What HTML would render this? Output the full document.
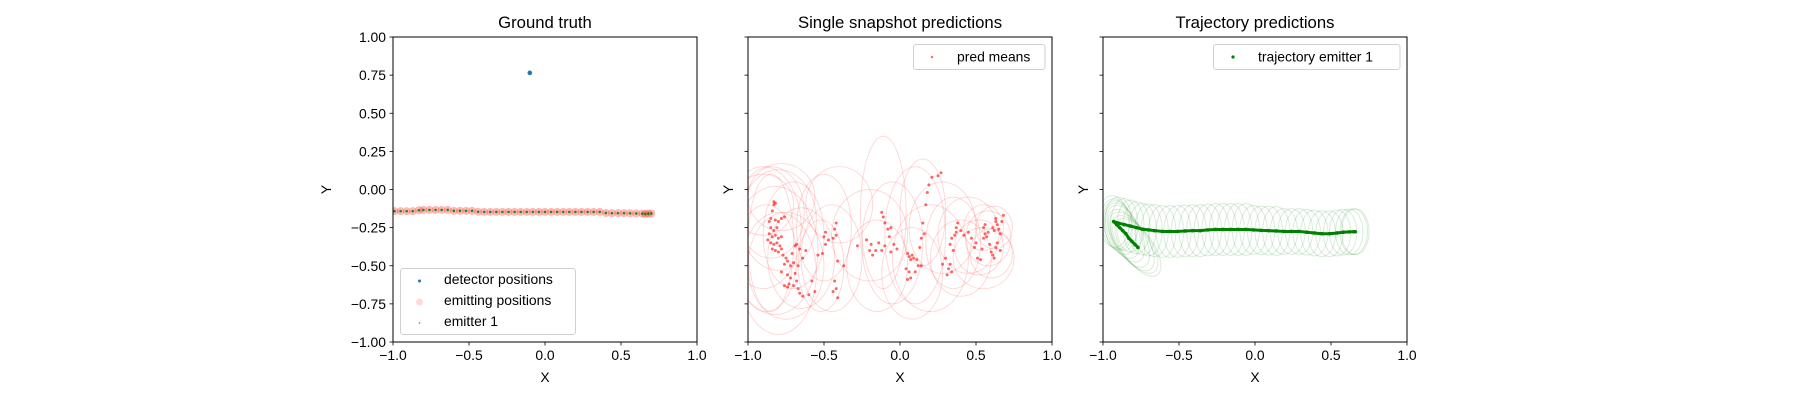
<!DOCTYPE html>
<html><head><meta charset="utf-8"><style>
body{margin:0;background:#fff}
svg{display:block;font-family:"Liberation Sans","DejaVu Sans",sans-serif}
</style></head><body>
<svg id="fig" width="1800" height="400" viewBox="0 0 1800 400" xmlns="http://www.w3.org/2000/svg">
<rect width="1800" height="400" fill="#fff"/>
</svg>
<script>
// ---- Panel 1 data ----
const detX=[-0.1];
const detY=[0.765];
const emitX=[-0.99,-0.95,-0.91,-0.87,-0.83,-0.80,-0.76,-0.72,-0.68,-0.64,-0.60,-0.56,-0.52,-0.48,-0.44,-0.40,-0.36,-0.32,-0.28,-0.24,-0.20,-0.16,-0.12,-0.08,-0.04,0.00,0.04,0.08,0.12,0.16,0.20,0.24,0.28,0.32,0.36,0.40,0.44,0.48,0.52,0.56,0.60,0.64,0.66,0.68,0.70];
const emitY=[-0.142,-0.142,-0.142,-0.142,-0.136,-0.134,-0.134,-0.134,-0.134,-0.134,-0.14,-0.14,-0.14,-0.14,-0.146,-0.147,-0.147,-0.147,-0.147,-0.147,-0.147,-0.147,-0.147,-0.147,-0.147,-0.147,-0.147,-0.147,-0.147,-0.147,-0.147,-0.147,-0.147,-0.147,-0.147,-0.154,-0.155,-0.155,-0.155,-0.156,-0.157,-0.158,-0.16,-0.158,-0.157];
// ---- Panel 2 data ----
const predX=[-0.83,-0.82,-0.83,-0.84,-0.85,-0.86,-0.82,-0.80,-0.78,-0.76,-0.85,-0.83,-0.81,-0.86,-0.84,-0.82,-0.80,-0.78,-0.87,-0.85,-0.83,-0.81,-0.79,-0.84,-0.82,-0.80,-0.78,-0.77,-0.75,
-0.76,-0.74,-0.72,-0.70,-0.78,-0.74,-0.72,-0.76,-0.74,-0.73,-0.70,-0.68,-0.67,-0.66,-0.64,-0.69,-0.67,-0.71,-0.69,-0.68,
-0.66,-0.64,-0.62,-0.60,-0.58,-0.56,-0.54,-0.51,-0.49,-0.50,-0.49,-0.47,-0.44,-0.42,-0.43,-0.42,-0.41,-0.43,-0.44,-0.42,-0.41,-0.37,
-0.28,-0.22,-0.20,-0.19,-0.18,-0.16,-0.14,-0.12,-0.10,-0.12,-0.11,-0.10,-0.08,-0.06,-0.07,-0.04,-0.06,-0.02,
0.05,0.06,0.08,0.07,0.09,0.04,0.06,0.05,0.07,0.10,0.12,0.14,0.11,0.13,0.14,0.16,0.15,0.17,0.18,0.19,0.21,0.25,0.27,
0.28,0.30,0.31,0.32,0.33,0.34,0.35,0.33,0.34,0.36,0.37,0.37,0.38,0.40,0.42,0.45,
0.47,0.49,0.50,0.51,0.53,0.54,0.55,0.56,0.55,0.56,0.57,0.58,0.59,0.60,0.61,0.62,0.61,0.63,0.63,0.64,0.65,0.66,0.63,0.64,0.67,0.68,0.66,0.62];
const predY=[-0.08,-0.09,-0.10,-0.14,-0.19,-0.21,-0.20,-0.21,-0.19,-0.18,-0.25,-0.27,-0.25,-0.29,-0.31,-0.30,-0.32,-0.31,-0.33,-0.35,-0.36,-0.35,-0.37,-0.39,-0.40,-0.41,-0.39,-0.43,-0.45,
-0.49,-0.47,-0.50,-0.48,-0.54,-0.56,-0.58,-0.63,-0.64,-0.62,-0.63,-0.60,-0.65,-0.68,-0.70,-0.55,-0.50,-0.42,-0.37,-0.36,
-0.39,-0.45,-0.40,-0.69,-0.60,-0.67,-0.43,-0.42,-0.36,-0.31,-0.28,-0.33,-0.32,-0.30,-0.26,-0.22,-0.47,-0.60,-0.67,-0.65,-0.71,-0.50,
-0.37,-0.33,-0.40,-0.36,-0.43,-0.40,-0.35,-0.40,-0.37,-0.15,-0.18,-0.22,-0.26,-0.25,-0.31,-0.36,-0.41,-0.39,
-0.42,-0.44,-0.43,-0.46,-0.45,-0.52,-0.54,-0.59,-0.58,-0.54,-0.50,-0.50,-0.46,-0.38,-0.32,-0.29,-0.22,-0.10,-0.02,0.03,0.08,0.09,0.11,
-0.49,-0.45,-0.56,-0.52,-0.49,-0.54,-0.40,-0.36,-0.32,-0.30,-0.28,-0.25,-0.22,-0.27,-0.30,-0.28,
-0.32,-0.38,-0.35,-0.45,-0.46,-0.39,-0.32,-0.29,-0.25,-0.23,-0.31,-0.28,-0.36,-0.41,-0.43,-0.27,-0.25,-0.21,-0.19,-0.23,-0.26,-0.29,-0.38,-0.35,-0.21,-0.17,-0.40,-0.45];
const covCx=[-0.85,-0.80,-0.90,-0.82,-0.88,-0.75,-0.80,-0.85,-0.70,-0.65,-0.90,-0.78,-0.50,-0.45,-0.52,-0.40,-0.11,-0.20,-0.05,-0.15,0.10,0.15,0.20,0.08,0.28,0.35,0.40,0.45,0.55,0.58,0.52,0.60,0.62,0.55];
const covCy=[-0.15,-0.20,-0.25,-0.40,-0.45,-0.50,-0.55,-0.35,-0.30,-0.45,-0.10,-0.05,-0.25,-0.45,-0.50,-0.10,-0.15,-0.30,-0.35,-0.50,-0.30,-0.15,-0.45,-0.55,-0.25,-0.35,-0.45,-0.30,-0.25,-0.32,-0.38,-0.42,-0.25,-0.45];
const covRx=[0.22,0.25,0.25,0.28,0.20,0.25,0.25,0.15,0.20,0.22,0.20,0.22,0.18,0.20,0.15,0.22,0.15,0.25,0.20,0.20,0.20,0.15,0.25,0.20,0.22,0.18,0.20,0.20,0.13,0.15,0.16,0.14,0.12,0.20];
const covRy=[0.30,0.33,0.40,0.42,0.35,0.35,0.40,0.45,0.35,0.33,0.20,0.22,0.35,0.35,0.30,0.25,0.50,0.30,0.40,0.30,0.45,0.35,0.35,0.30,0.30,0.30,0.25,0.25,0.15,0.18,0.18,0.16,0.14,0.20];
// ---- Panel 3 data ----
const trajX=[-0.77,-0.79,-0.81,-0.83,-0.85,-0.87,-0.89,-0.91,-0.93,-0.90,-0.86,-0.82,-0.78,-0.74,-0.70,-0.66,-0.61,-0.56,-0.51,-0.46,-0.41,-0.36,-0.31,-0.26,-0.21,-0.16,-0.11,-0.06,-0.01,0.04,0.09,0.14,0.19,0.24,0.29,0.34,0.39,0.44,0.49,0.54,0.58,0.62,0.65,0.66];
const trajY=[-0.38,-0.36,-0.34,-0.32,-0.29,-0.27,-0.25,-0.23,-0.21,-0.22,-0.23,-0.24,-0.25,-0.26,-0.265,-0.27,-0.275,-0.275,-0.275,-0.272,-0.27,-0.27,-0.265,-0.262,-0.262,-0.262,-0.262,-0.262,-0.265,-0.268,-0.27,-0.272,-0.275,-0.275,-0.275,-0.28,-0.285,-0.29,-0.29,-0.285,-0.28,-0.278,-0.277,-0.277];
const trajRx=[0.10,0.10,0.10,0.10,0.10,0.10,0.10,0.10,0.10,0.09,0.09,0.09,0.09,0.09,0.09,0.09,0.09,0.09,0.09,0.09,0.09,0.09,0.09,0.09,0.09,0.09,0.09,0.09,0.09,0.09,0.09,0.09,0.09,0.09,0.09,0.09,0.09,0.09,0.09,0.09,0.09,0.09,0.09,0.09];
const trajRy=[0.22,0.22,0.22,0.21,0.20,0.19,0.18,0.17,0.17,0.17,0.17,0.17,0.17,0.17,0.17,0.17,0.17,0.17,0.17,0.17,0.17,0.17,0.17,0.17,0.17,0.17,0.17,0.17,0.16,0.16,0.16,0.16,0.15,0.15,0.15,0.15,0.15,0.15,0.15,0.15,0.15,0.15,0.15,0.15];
const trajRot=[-35,-35,-33,-30,-25,-20,-15,-10,-5,0,0,0,0,0,0,0,0,0,0,0,0,0,0,0,0,0,0,0,0,0,0,0,0,0,0,0,0,0,0,0,0,0,0,0];
const xTicks=[-1.0,-0.5,0.0,0.5,1.0];
const xTickLabels=["\u22121.0","\u22120.5","0.0","0.5","1.0"];
const yTicks=[-1,-0.75,-0.5,-0.25,0,0.25,0.5,0.75,1];
const yTickLabels=["\u22121.00","\u22120.75","\u22120.50","\u22120.25","0.00","0.25","0.50","0.75","1.00"];

const NS="http://www.w3.org/2000/svg";
const fig=document.getElementById('fig');
function mk(tag,attrs,parent){const e=document.createElementNS(NS,tag);for(const k in attrs)e.setAttribute(k,attrs[k]);(parent||fig).appendChild(e);return e;}
const AX_T=37,AX_B=342,AX_W=304;
const axLefts=[393,748,1103];
function sx(i,v){return axLefts[i]+(v+1)/2*AX_W;}
function sy(v){return AX_B-(v+1)/2*(AX_B-AX_T);}

const titles=["Ground truth","Single snapshot predictions","Trajectory predictions"];
const panels=[];
for(let i=0;i<3;i++){
  const g=mk('g',{});
  
  
  const L=axLefts[i];
  const cp=mk('clipPath',{id:'clip'+i},g);
  mk('rect',{x:L,y:AX_T,width:AX_W,height:AX_B-AX_T},cp);
  const plot=mk('g',{'clip-path':'url(#clip'+i+')'},g);
  
  
  panels.push({g,plot});
  const t=mk('text',{x:L+AX_W/2,y:28,'text-anchor':'middle','font-size':'16.7'},g);
  t.textContent=titles[i];
  
  
  xTicks.forEach((v,k)=>{
    const x=sx(i,v);
    const tk=mk('line',{x1:x,x2:x,y1:AX_B,y2:AX_B+3.5,stroke:'#000','stroke-width':0.8},g);
    
    
    const tl=mk('text',{x:x,y:AX_B+18,'text-anchor':'middle','font-size':'13.9'},g);
    tl.textContent=xTickLabels[k];
    
    
  });
  yTicks.forEach((v,k)=>{
    const y=sy(v);
    const tk=mk('line',{x1:L-3.5,x2:L,y1:y,y2:y,stroke:'#000','stroke-width':0.8},g);
    
    
    if(i===0){
      const tl=mk('text',{x:L-7,y:y+5,'text-anchor':'end','font-size':'13.9'},g);
      tl.textContent=yTickLabels[k];
      
      
    }
  });
  const xl=mk('text',{x:L+AX_W/2,y:382,'text-anchor':'middle','font-size':'13.9'},g);
  xl.textContent='X';
  
  
  const ylx=(i===0)?331:L-15;
  const yl=mk('text',{x:ylx,y:189.5,'text-anchor':'middle','font-size':'13.9',transform:'rotate(-90 '+ylx+' 189.5)'},g);
  yl.textContent='Y';
  
  
}

// Panel 1 marks
const p1=panels[0].plot;
emitX.forEach((v,k)=>{
  const c=mk('circle',{cx:sx(0,v),cy:sy(emitY[k]),r:4,fill:'rgba(255,0,0,0.28)'},p1);
  
  
});
emitX.forEach((v,k)=>{
  const c=mk('circle',{cx:sx(0,v),cy:sy(emitY[k]),r:1.3,fill:'rgba(0,128,0,0.85)'},p1);
  
  
});
detX.forEach((v,k)=>{
  const c=mk('circle',{cx:sx(0,v),cy:sy(detY[k]),r:2.3,fill:'#1f77b4'},p1);
  
  
});

// Panel 2 marks
const p2=panels[1].plot;
covCx.forEach((v,k)=>{
  const e=mk('ellipse',{cx:sx(1,v),cy:sy(covCy[k]),rx:covRx[k]*AX_W/2,ry:covRy[k]*(AX_B-AX_T)/2,fill:'none',stroke:'rgba(255,0,0,0.15)','stroke-width':1},p2);
  
  
});
predX.forEach((v,k)=>{
  const c=mk('circle',{cx:sx(1,v),cy:sy(predY[k]),r:1.5,fill:'rgba(255,0,0,0.6)'},p2);
  
  
});

// Panel 3 marks
const p3=panels[2].plot;
trajX.forEach((v,k)=>{
  const cx=sx(2,v),cy=sy(trajY[k]);
  const e=mk('ellipse',{cx:cx,cy:cy,rx:trajRx[k]*AX_W/2,ry:trajRy[k]*(AX_B-AX_T)/2,fill:'none',stroke:'rgba(0,128,0,0.15)','stroke-width':1,transform:'rotate('+trajRot[k]+' '+cx+' '+cy+')'},p3);
  
  
});
const pts=trajX.map((v,k)=>sx(2,v)+','+sy(trajY[k])).join(' ');
const pl=mk('polyline',{points:pts,fill:'none',stroke:'#008000','stroke-width':3,'stroke-linejoin':'round'},p3);


trajX.forEach((v,k)=>{
  const c=mk('circle',{cx:sx(2,v),cy:sy(trajY[k]),r:1.8,fill:'#008000'},p3);
  
  
});

// spines
for(let i=0;i<3;i++){
  const s=mk('rect',{x:axLefts[i],y:AX_T,width:AX_W,height:AX_B-AX_T,fill:'none',stroke:'#000','stroke-width':1},panels[i].g);
  
  
}

// legends
function legendBox(g,x,y,w,h){
  const r=mk('rect',{x:x,y:y,width:w,height:h,rx:2.5,fill:'rgba(255,255,255,0.8)',stroke:'#d0d0d0','stroke-width':1},g);
  
  
}
function legendText(g,x,y,s){
  const t=mk('text',{x:x,y:y,'font-size':'13.9'},g);
  t.textContent=s;
  
  
}
const lg1=mk('g',{});


legendBox(lg1,400.5,268.5,175,66);
const m1=mk('circle',{cx:419.5,cy:281,r:1.5,fill:'#1f77b4'},lg1);


legendText(lg1,444,284,'detector positions');
const m2=mk('circle',{cx:419.5,cy:302,r:3.5,fill:'rgba(255,0,0,0.15)'},lg1);


legendText(lg1,444,305,'emitting positions');
const m3=mk('circle',{cx:419.5,cy:323,r:0.9,fill:'rgba(0,128,0,0.6)'},lg1);


legendText(lg1,444,326,'emitter 1');

const lg2=mk('g',{});


legendBox(lg2,913.5,44.5,131.5,25);
const m4=mk('circle',{cx:932,cy:57,r:1.3,fill:'rgba(255,0,0,0.55)'},lg2);


legendText(lg2,957,61.5,'pred means');

const lg3=mk('g',{});


legendBox(lg3,1213.5,44.5,186.5,25);
const m5=mk('circle',{cx:1233,cy:57,r:1.6,fill:'#008000'},lg3);


legendText(lg3,1258,61.5,'trajectory emitter 1');
</script>
</body></html>
